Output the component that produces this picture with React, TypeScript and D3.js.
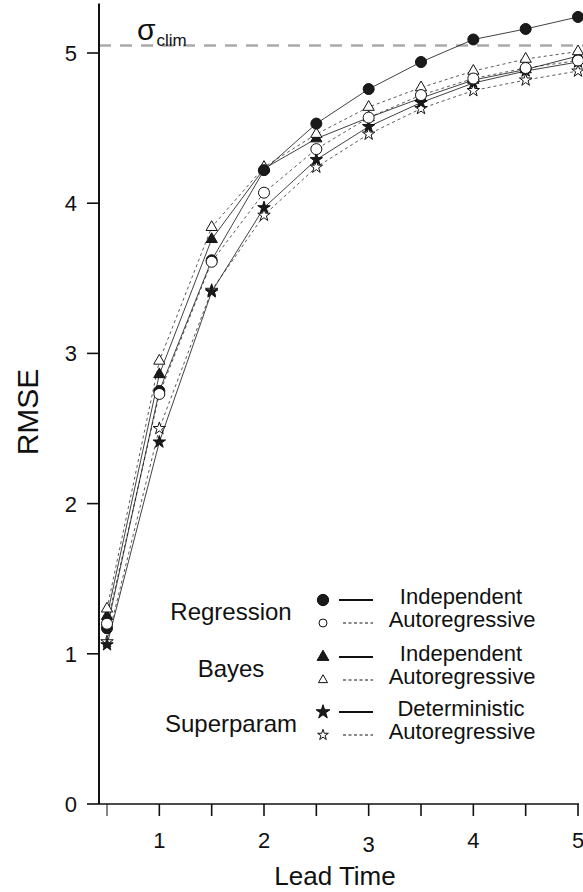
import { useRef, useEffect } from "react";
import * as d3 from "d3";

const leadTimes = [0.5, 1, 1.5, 2, 2.5, 3, 3.5, 4, 4.5, 5];
const regressionIndependent = [1.17, 2.75, 3.62, 4.22, 4.53, 4.76, 4.94, 5.09, 5.16, 5.24];
const regressionAutoreg = [1.2, 2.73, 3.61, 4.07, 4.36, 4.57, 4.72, 4.83, 4.9, 4.95];
const bayesIndependent = [1.25, 2.86, 3.76, 4.23, 4.43, 4.57, 4.7, 4.82, 4.89, 4.98];
const bayesAutoreg = [1.3, 2.95, 3.84, 4.24, 4.46, 4.64, 4.77, 4.88, 4.96, 5.01];
const superDeterministic = [1.06, 2.41, 3.41, 3.97, 4.29, 4.51, 4.67, 4.8, 4.88, 4.94];
const superAutoreg = [1.08, 2.5, 3.42, 3.92, 4.24, 4.46, 4.63, 4.75, 4.82, 4.88];
const sigmaClim = 5.05;

const xTicks = [0.5, 1, 1.5, 2, 2.5, 3, 3.5, 4, 4.5, 5];
const xTickLabels = [1, 2, 3, 4, 5];
const yTicks = [0, 1, 2, 3, 4, 5];

const legendGroups = [
  { name: "Regression", first: "Independent", second: "Autoregressive", shape: "circle" },
  { name: "Bayes", first: "Independent", second: "Autoregressive", shape: "triangle" },
  { name: "Superparam", first: "Deterministic", second: "Autoregressive", shape: "star" },
];

const FONT = "'Liberation Sans', Arial, Helvetica, sans-serif";
const INK = "#111";

const shapes: Record<string, d3.SymbolType> = {
  circle: d3.symbolCircle,
  triangle: d3.symbolTriangle,
  star: d3.symbolStar,
};
const dataSizes: Record<string, number> = { circle: 95, triangle: 55, star: 48 };

export default function App() {
  const svgRef = useRef<SVGSVGElement>(null);

  useEffect(() => {
    if (!svgRef.current) return;
    const width = 583;
    const height = 892;
    const svg = d3.select(svgRef.current);
    svg.selectAll("*").remove();
    svg.attr("width", width).attr("height", height);

    const x = d3.scaleLinear().domain([0.5, 5]).range([107, 578]);
    const y = d3.scaleLinear().domain([0, 5]).range([804, 53]);
    const axisX0 = 99;

    // Climatology line
    svg
      .append("line")
      .attr("x1", axisX0)
      .attr("x2", width)
      .attr("y1", y(sigmaClim))
      .attr("y2", y(sigmaClim))
      .attr("stroke", "#aaa")
      .attr("stroke-width", 2.5)
      .attr("stroke-dasharray", "12,9");

    const sig = svg
      .append("text")
      .attr("x", 137)
      .attr("y", 40)
      .attr("font-family", FONT)
      .attr("fill", INK);
    sig.append("tspan").attr("font-size", 30).text("σ");
    sig.append("tspan").attr("font-size", 17).attr("dy", 6).attr("dx", 1).text("clim");

    // Axes
    svg
      .append("line")
      .attr("x1", axisX0)
      .attr("x2", axisX0)
      .attr("y1", y(0))
      .attr("y2", y(5.33))
      .attr("stroke", INK)
      .attr("stroke-width", 2);
    svg
      .append("line")
      .attr("x1", axisX0)
      .attr("x2", x(5) + 1)
      .attr("y1", y(0))
      .attr("y2", y(0))
      .attr("stroke", INK)
      .attr("stroke-width", 1.6);

    yTicks.forEach((t) => {
      svg
        .append("line")
        .attr("x1", 87)
        .attr("x2", axisX0)
        .attr("y1", y(t))
        .attr("y2", y(t))
        .attr("stroke", INK)
        .attr("stroke-width", 1.6);
      svg
        .append("text")
        .attr("x", 77)
        .attr("y", y(t))
        .attr("dy", "0.36em")
        .attr("text-anchor", "end")
        .attr("font-family", FONT)
        .attr("font-size", 22)
        .attr("fill", INK)
        .text(t);
    });

    xTicks.forEach((t) => {
      svg
        .append("line")
        .attr("x1", x(t))
        .attr("x2", x(t))
        .attr("y1", y(0))
        .attr("y2", y(0) + 12)
        .attr("stroke", INK)
        .attr("stroke-width", t === 0.5 ? 1 : 1.6);
    });
    xTickLabels.forEach((t) => {
      svg
        .append("text")
        .attr("x", x(t))
        .attr("y", t === 3 ? 852 : 848)
        .attr("text-anchor", "middle")
        .attr("font-family", FONT)
        .attr("font-size", 22)
        .attr("fill", INK)
        .text(t);
    });

    svg
      .append("text")
      .attr("x", 335)
      .attr("y", 885)
      .attr("text-anchor", "middle")
      .attr("font-family", FONT)
      .attr("font-size", 26)
      .attr("fill", INK)
      .text("Lead Time");

    svg
      .append("text")
      .attr("transform", "translate(38,412) rotate(-90)")
      .attr("text-anchor", "middle")
      .attr("font-family", FONT)
      .attr("font-size", 30)
      .attr("fill", INK)
      .text("RMSE");

    // Series
    const series = [
      { values: superAutoreg, shape: "star", filled: false },
      { values: superDeterministic, shape: "star", filled: true },
      { values: bayesIndependent, shape: "triangle", filled: true },
      { values: bayesAutoreg, shape: "triangle", filled: false },
      { values: regressionIndependent, shape: "circle", filled: true },
      { values: regressionAutoreg, shape: "circle", filled: false },
    ];

    const line = d3
      .line<number>()
      .x((_, i) => x(leadTimes[i]))
      .y((d) => y(d));

    series.forEach((s) => {
      svg
        .append("path")
        .datum(s.values)
        .attr("fill", "none")
        .attr("stroke", INK)
        .attr("stroke-width", s.filled ? 0.8 : 0.7)
        .attr("stroke-dasharray", s.filled ? null : "3,3")
        .attr("d", line);
    });

    series.forEach((s) => {
      const sym = d3.symbol().type(shapes[s.shape]).size(dataSizes[s.shape]);
      svg
        .append("g")
        .selectAll("path")
        .data(s.values)
        .join("path")
        .attr("transform", (d, i) => `translate(${x(leadTimes[i])},${y(d)})`)
        .attr("d", sym)
        .attr("fill", s.filled ? "#1a1a1a" : "#fff")
        .attr("stroke", INK)
        .attr("stroke-width", 1);
    });

    // Legend
    const rowTop = [600, 657, 712];
    const gap = 23;
    legendGroups.forEach((g, k) => {
      const y1 = rowTop[k];
      const y2 = y1 + gap;
      svg
        .append("text")
        .attr("x", 231)
        .attr("y", (y1 + y2) / 2 + 8)
        .attr("text-anchor", "middle")
        .attr("font-family", FONT)
        .attr("font-size", 24)
        .attr("fill", INK)
        .text(g.name);

      const big = d3.symbol().type(shapes[g.shape]).size(g.shape === "circle" ? 100 : 60);
      const small = d3.symbol().type(shapes[g.shape]).size(g.shape === "circle" ? 50 : 36);
      svg
        .append("path")
        .attr("transform", `translate(323,${y1})`)
        .attr("d", big)
        .attr("fill", "#1a1a1a")
        .attr("stroke", INK);
      svg
        .append("path")
        .attr("transform", `translate(323,${y2})`)
        .attr("d", small)
        .attr("fill", "#fff")
        .attr("stroke", INK);

      svg
        .append("line")
        .attr("x1", 339)
        .attr("x2", 373)
        .attr("y1", y1)
        .attr("y2", y1)
        .attr("stroke", INK)
        .attr("stroke-width", 1.8);
      svg
        .append("line")
        .attr("x1", 343)
        .attr("x2", 373)
        .attr("y1", y2)
        .attr("y2", y2)
        .attr("stroke", INK)
        .attr("stroke-width", 1)
        .attr("stroke-dasharray", "3,2.5");

      svg
        .append("text")
        .attr("x", 461)
        .attr("y", y1 + 4)
        .attr("text-anchor", "middle")
        .attr("font-family", FONT)
        .attr("font-size", 22)
        .attr("fill", INK)
        .text(g.first);
      svg
        .append("text")
        .attr("x", 462)
        .attr("y", y2 + 4)
        .attr("text-anchor", "middle")
        .attr("font-family", FONT)
        .attr("font-size", 22)
        .attr("fill", INK)
        .text(g.second);
    });
  }, []);

  return (
    <div style={{ position: "absolute", left: 0, top: 0, width: 583, height: 892, background: "#fff" }}>
      <svg ref={svgRef} style={{ display: "block" }} />
    </div>
  );
}
